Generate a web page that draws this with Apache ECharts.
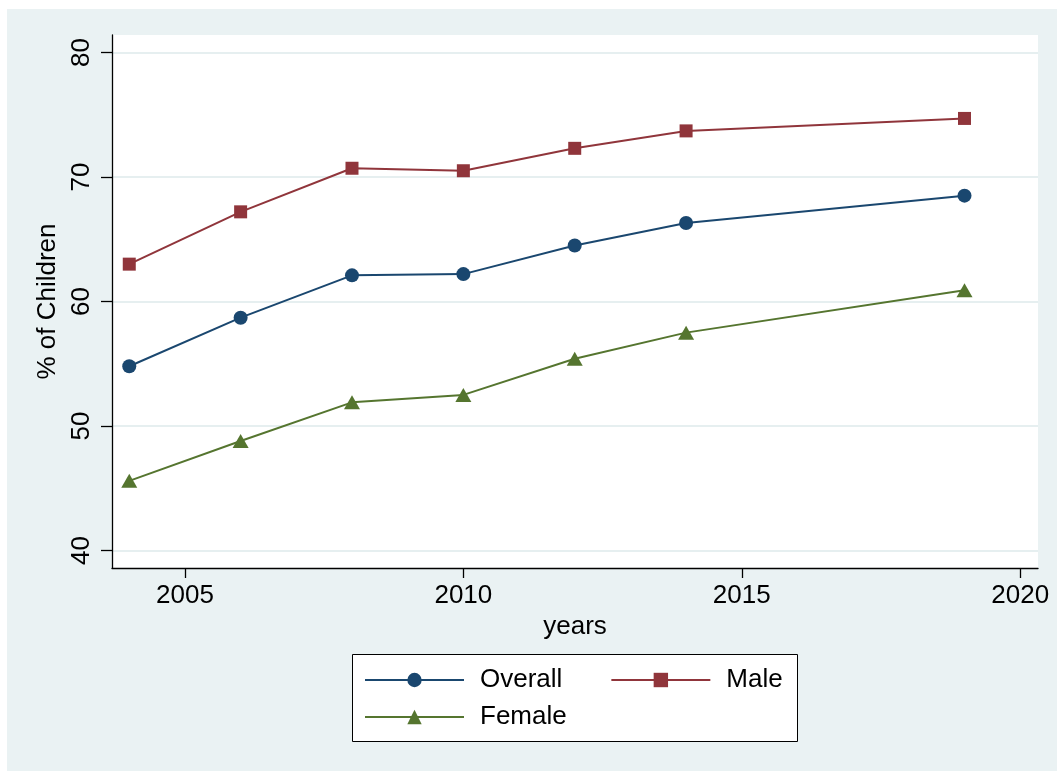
<!DOCTYPE html>
<html>
<head>
<meta charset="utf-8">
<script src="https://cdn.jsdelivr.net/npm/echarts@6/dist/echarts.min.js"></script>
<style>
    html, body { margin: 0; padding: 0; background: #fff; }
    #chart { position: absolute; left: 7px; top: 9px; width: 1050px; height: 762px; }
</style>
</head>
<body>
<div id="chart"></div>
<script>
// survey years and % of children per group
var years = [2004, 2006, 2008, 2010, 2012, 2014, 2019];
var overall = [54.8, 58.7, 62.1, 62.2, 64.5, 66.3, 68.5];
var male = [63.0, 67.2, 70.7, 70.5, 72.3, 73.7, 74.7];
var female = [45.6, 48.8, 51.9, 52.5, 55.4, 57.5, 60.9];

var xTicks = [2005, 2010, 2015, 2020];
var yTicks = [40, 50, 60, 70, 80];

var font = '"Liberation Sans", Arial, Helvetica, sans-serif';
var navy = '#1A476F', maroon = '#90353B', green = '#55752F';

function pairs(vals) {
    return years.map(function (y, i) {
        return [y, vals[i]];
    });
}

function lineSeries(name, vals, color, symbol, size) {
    return {
        name: name,
        type: 'line',
        data: pairs(vals),
        symbol: symbol,
        symbolSize: size,
        showSymbol: true,
        lineStyle: { color: color, width: 2 },
        itemStyle: { color: color, borderWidth: 0 }
    };
}

var legendText = { fontSize: 26, color: '#000', fontFamily: font, padding: [0, 0, 0, 11] };

var chart = echarts.init(document.getElementById('chart'));
var option = {
    animation: false,
    backgroundColor: '#EAF2F3',
    textStyle: { fontFamily: font },
    grid: {
        left: 105,
        top: 26,
        width: 926,
        height: 533,
        show: true,
        backgroundColor: '#fff',
        borderWidth: 0
    },
    graphic: [
        {
            type: 'rect',
            left: 345,
            top: 645,
            shape: { width: 445, height: 87 },
            style: { fill: '#fff', stroke: '#000', lineWidth: 1 },
            z: -1
        }
    ],
    legend: [
        {
            data: ['Overall', 'Male'],
            left: 357,
            top: 658,
            padding: 0,
            itemWidth: 99,
            itemHeight: 18,
            itemGap: 48,
            textStyle: legendText
        },
        {
            data: ['Female'],
            left: 357,
            top: 695,
            padding: 0,
            itemWidth: 99,
            itemHeight: 18,
            textStyle: legendText
        }
    ],
    xAxis: {
        type: 'value',
        min: 2003.69,
        max: 2020.32,
        name: 'years',
        nameLocation: 'middle',
        nameGap: 45,
        nameTextStyle: { fontSize: 26, color: '#000', fontFamily: font },
        axisLine: { show: true, onZero: false, lineStyle: { color: '#000', width: 1.3 } },
        axisTick: { show: true, length: 10, customValues: xTicks, lineStyle: { color: '#000', width: 1.3 } },
        axisLabel: {
            customValues: xTicks,
            fontSize: 26,
            color: '#000',
            margin: 15,
            fontFamily: font,
            formatter: function (v) { return String(v); }
        },
        splitLine: { show: false }
    },
    yAxis: {
        type: 'value',
        min: 38.6,
        max: 81.4,
        name: '% of Children',
        nameLocation: 'middle',
        nameGap: 49,
        nameTextStyle: { fontSize: 26, color: '#000', fontFamily: font },
        axisLine: { show: true, onZero: false, lineStyle: { color: '#000', width: 1.3 } },
        axisTick: { show: true, length: 11, customValues: yTicks, lineStyle: { color: '#000', width: 1.3 } },
        axisLabel: {
            customValues: yTicks,
            rotate: 90,
            fontSize: 26,
            color: '#000',
            margin: 17,
            fontFamily: font,
            formatter: function (v) { return String(v); }
        },
        splitLine: { show: true, lineStyle: { color: '#E6EFF0', width: 1.8 } }
    },
    series: [
        lineSeries('Overall', overall, navy, 'circle', 14),
        lineSeries('Male', male, maroon, 'rect', 13),
        lineSeries('Female', female, green, 'triangle', [16, 14])
    ]
};
chart.setOption(option);
</script>
</body>
</html>
